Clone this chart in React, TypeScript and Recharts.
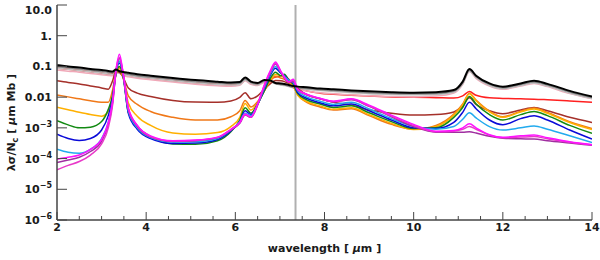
import { LineChart, Line, XAxis, YAxis, ReferenceLine } from 'recharts';

// wavelength grid (micron)
const WAVE = [
  2.0, 2.25, 2.5, 2.75, 3.0, 3.15, 3.25, 3.32, 3.4, 3.48, 3.6, 3.8, 4.1, 4.6, 5.1, 5.6,
  5.9, 6.1, 6.22, 6.35, 6.5, 6.65, 6.78, 6.9, 7.02, 7.1, 7.2, 7.3, 7.4, 7.6, 7.9, 8.2,
  8.6, 9.0, 9.5, 10.0, 10.5, 10.9, 11.1, 11.25, 11.4, 11.7, 12.0, 12.4, 12.7, 13.0, 13.5, 14.0,
];

const BLACK = [
  0.11, 0.1, 0.092, 0.083, 0.076, 0.071, 0.068, 0.08, 0.07, 0.066, 0.062, 0.056, 0.05, 0.042, 0.036, 0.032,
  0.03, 0.031, 0.044, 0.032, 0.029, 0.036, 0.035, 0.029, 0.028, 0.027, 0.025, 0.023, 0.022, 0.021, 0.019, 0.018,
  0.0165, 0.0155, 0.0145, 0.014, 0.0145, 0.017, 0.032, 0.082, 0.05, 0.028, 0.022, 0.028, 0.034, 0.027, 0.016, 0.0105,
];
const GRAY_DARK = [
  0.098, 0.09, 0.083, 0.075, 0.068, 0.064, 0.062, 0.072, 0.066, 0.06, 0.056, 0.05, 0.045, 0.038, 0.0325, 0.0288,
  0.0275, 0.0285, 0.039, 0.03, 0.027, 0.033, 0.033, 0.028, 0.026, 0.025, 0.023, 0.021, 0.02, 0.0192, 0.0175, 0.0165,
  0.015, 0.014, 0.0132, 0.0128, 0.0132, 0.0155, 0.029, 0.075, 0.046, 0.026, 0.0202, 0.0258, 0.031, 0.025, 0.0148, 0.0097,
];
const GRAY_LIGHT = [
  0.088, 0.081, 0.074, 0.067, 0.061, 0.057, 0.055, 0.065, 0.06, 0.054, 0.051, 0.046, 0.041, 0.034, 0.0295, 0.026,
  0.025, 0.026, 0.036, 0.028, 0.025, 0.031, 0.031, 0.027, 0.025, 0.024, 0.022, 0.02, 0.019, 0.018, 0.0163, 0.0153,
  0.014, 0.013, 0.0123, 0.0119, 0.0123, 0.0145, 0.027, 0.07, 0.043, 0.024, 0.0188, 0.024, 0.029, 0.023, 0.0137, 0.009,
];
const PINK = [
  0.076, 0.07, 0.065, 0.059, 0.054, 0.051, 0.05, 0.062, 0.06, 0.05, 0.046, 0.041, 0.037, 0.031, 0.0265, 0.0235,
  0.0225, 0.0245, 0.034, 0.026, 0.024, 0.03, 0.031, 0.03, 0.028, 0.027, 0.024, 0.021, 0.018, 0.016, 0.0138, 0.0128,
  0.0118, 0.011, 0.0105, 0.0102, 0.0108, 0.0135, 0.026, 0.068, 0.041, 0.023, 0.018, 0.023, 0.028, 0.022, 0.013, 0.0088,
];
const RED = [
  0.088, 0.081, 0.074, 0.067, 0.061, 0.057, 0.058, 0.075, 0.07, 0.05, 0.051, 0.046, 0.041, 0.034, 0.0295, 0.026,
  0.025, 0.026, 0.036, 0.028, 0.026, 0.034, 0.04, 0.045, 0.05, 0.052, 0.038, 0.028, 0.02, 0.016, 0.0135, 0.0125,
  0.0115, 0.0108, 0.0102, 0.0099, 0.0096, 0.0093, 0.011, 0.0152, 0.0115, 0.0095, 0.0091, 0.0088, 0.0086, 0.0082, 0.0075, 0.0068,
];
const BROWN = [
  0.034, 0.03, 0.027, 0.023, 0.02, 0.018, 0.035, 0.068, 0.065, 0.045, 0.02, 0.0135, 0.0105, 0.0078, 0.0069, 0.0068,
  0.0075, 0.0098, 0.014, 0.0088, 0.011, 0.018, 0.027, 0.035, 0.034, 0.032, 0.028, 0.025, 0.019, 0.012, 0.0088, 0.0068,
  0.0055, 0.0039, 0.003, 0.0026, 0.0027, 0.0033, 0.0052, 0.0095, 0.0058, 0.0036, 0.0029, 0.0038, 0.0046, 0.0036, 0.0022, 0.0015,
];
const ORANGE = [
  0.0118, 0.0102, 0.0088, 0.0076, 0.0068, 0.0068, 0.018, 0.06, 0.085, 0.045, 0.011, 0.0058, 0.0034, 0.0022, 0.0018, 0.0018,
  0.0023, 0.0036, 0.0078, 0.0048, 0.0072, 0.016, 0.032, 0.048, 0.042, 0.038, 0.03, 0.022, 0.012, 0.0068, 0.0048, 0.0038,
  0.0042, 0.0025, 0.0013, 0.0009, 0.0012, 0.0028, 0.006, 0.0135, 0.008, 0.0035, 0.0023, 0.0035, 0.0044, 0.0032, 0.0016, 0.00095,
];
const GOLD = [
  0.0047, 0.0039, 0.0032, 0.0027, 0.0024, 0.0034, 0.012, 0.05, 0.09, 0.045, 0.0065, 0.0024, 0.0012, 0.00068, 0.00062, 0.0007,
  0.0011, 0.0022, 0.0062, 0.0038, 0.0065, 0.016, 0.035, 0.055, 0.05, 0.042, 0.032, 0.024, 0.0115, 0.0072, 0.0052, 0.004,
  0.0045, 0.0027, 0.0014, 0.00088, 0.0011, 0.0026, 0.0056, 0.013, 0.0076, 0.0033, 0.0022, 0.0033, 0.0041, 0.003, 0.0015, 0.00088,
];
const GREEN = [
  0.0017, 0.00125, 0.001, 0.00105, 0.0016, 0.004, 0.012, 0.055, 0.1, 0.05, 0.0032, 0.0011, 0.00052, 0.0003, 0.00029, 0.00038,
  0.00075, 0.0018, 0.0045, 0.003, 0.006, 0.016, 0.04, 0.065, 0.05, 0.056, 0.035, 0.026, 0.013, 0.0082, 0.006, 0.0046,
  0.0052, 0.0031, 0.0016, 0.00095, 0.001, 0.0022, 0.0046, 0.0105, 0.006, 0.0027, 0.0018, 0.0027, 0.0034, 0.0025, 0.0012, 0.00066,
];
const BLUE = [
  0.00062, 0.00045, 0.00039, 0.00045, 0.00085, 0.0025, 0.01, 0.06, 0.13, 0.055, 0.003, 0.0009, 0.00045, 0.00031, 0.00032, 0.00042,
  0.0008, 0.0016, 0.0036, 0.0027, 0.0058, 0.018, 0.05, 0.088, 0.06, 0.05, 0.036, 0.028, 0.014, 0.0092, 0.0066, 0.0052,
  0.006, 0.0036, 0.0018, 0.001, 0.00095, 0.0015, 0.0032, 0.0068, 0.0042, 0.0018, 0.00126, 0.002, 0.0025, 0.0018, 0.00085, 0.00043,
];
const LIGHT_BLUE = [
  0.0002, 0.00016, 0.00015, 0.0002, 0.00045, 0.0015, 0.008, 0.06, 0.15, 0.06, 0.0035, 0.001, 0.00048, 0.00034, 0.00035, 0.00045,
  0.00085, 0.0016, 0.003, 0.0025, 0.0058, 0.02, 0.055, 0.1, 0.065, 0.048, 0.036, 0.03, 0.016, 0.0102, 0.0074, 0.0058,
  0.0068, 0.0041, 0.002, 0.0011, 0.0009, 0.0011, 0.0019, 0.0031, 0.0021, 0.0011, 0.00085, 0.001, 0.00115, 0.0009, 0.00055, 0.00033,
];
const MAGENTA = [
  0.000095, 0.00011, 0.00013, 0.0002, 0.00042, 0.0015, 0.008, 0.07, 0.25, 0.065, 0.0045, 0.0012, 0.00055, 0.00038, 0.0004, 0.0005,
  0.0009, 0.0015, 0.0028, 0.0023, 0.006, 0.025, 0.07, 0.14, 0.07, 0.045, 0.032, 0.038, 0.018, 0.0125, 0.0092, 0.0074,
  0.0088, 0.0055, 0.0026, 0.0013, 0.00078, 0.00082, 0.001, 0.00135, 0.001, 0.0006, 0.00049, 0.00055, 0.00058, 0.00048, 0.00035, 0.00028,
];
const PURPLE = [
  0.000074, 0.00009, 0.00011, 0.00017, 0.00036, 0.0013, 0.007, 0.06, 0.18, 0.06, 0.004, 0.0011, 0.0005, 0.00036, 0.00038, 0.00048,
  0.00085, 0.0014, 0.0026, 0.0022, 0.0055, 0.022, 0.06, 0.12, 0.065, 0.042, 0.03, 0.032, 0.017, 0.012, 0.0088, 0.007,
  0.0082, 0.005, 0.0023, 0.0011, 0.00072, 0.00072, 0.00072, 0.00074, 0.00068, 0.00053, 0.00046, 0.00044, 0.00043, 0.00038, 0.00032, 0.00027,
];
const MAGENTA_LOW = [
  0.000043, 0.00006, 0.00008, 0.00013, 0.0003, 0.001, 0.006, 0.07, 0.2, 0.065, 0.0042, 0.0012, 0.00052, 0.00037, 0.00039, 0.00049,
  0.00088, 0.0015, 0.0027, 0.0022, 0.0058, 0.024, 0.065, 0.13, 0.068, 0.044, 0.031, 0.036, 0.0175, 0.0122, 0.009, 0.0072,
  0.0085, 0.0052, 0.0024, 0.0012, 0.00075, 0.00078, 0.0009, 0.0011, 0.0009, 0.00058, 0.00048, 0.0005, 0.00052, 0.00044, 0.00034, 0.00028,
];

const MARKER_WAVE = 7.35;

const X_MAJOR = [2, 4, 6, 8, 10, 12, 14];
const X_MINOR = [2, 2.5, 3, 3.5, 4, 4.5, 5, 5.5, 6, 6.5, 7, 7.5, 8, 8.5, 9, 9.5, 10, 10.5, 11, 11.5, 12, 12.5, 13, 13.5, 14];
const Y_TICKS = [1e-6, 1e-5, 1e-4, 1e-3, 0.01, 0.1, 1, 10];
const Y_TICK_LABELS = ['10^-6', '10^-5', '10^-4', '10^-3', '0.01', '0.1', '1.', '10.0'];

const SERIES = [
  { key: 'red', color: '#ff2020', values: RED, width: 1.5 },
  { key: 'pink', color: '#f0a8b8', values: PINK, width: 1.5 },
  { key: 'grayLight', color: '#c0c0c0', values: GRAY_LIGHT, width: 1.5 },
  { key: 'grayDark', color: '#858585', values: GRAY_DARK, width: 1.5 },
  { key: 'brown', color: '#a5302a', values: BROWN, width: 1.5 },
  { key: 'orange', color: '#f07818', values: ORANGE, width: 1.5 },
  { key: 'gold', color: '#ffb000', values: GOLD, width: 1.5 },
  { key: 'green', color: '#138a13', values: GREEN, width: 1.5 },
  { key: 'blue', color: '#0a0ad8', values: BLUE, width: 1.5 },
  { key: 'lightBlue', color: '#22aaee', values: LIGHT_BLUE, width: 1.5 },
  { key: 'purple', color: '#a02ea0', values: PURPLE, width: 1.5 },
  { key: 'magentaLow', color: '#e838c8', values: MAGENTA_LOW, width: 1.5 },
  { key: 'magenta', color: '#ff10ff', values: MAGENTA, width: 1.5 },
  { key: 'black', color: '#000000', values: BLACK, width: 2 },
];

const data = WAVE.map((w, i) => {
  const row: Record<string, number> = { w };
  SERIES.forEach(s => {
    row[s.key] = s.values[i];
  });
  return row;
});

const FONT = '"DejaVu Sans", sans-serif';
const AXIS = '#444444';
const TEXT = '#1a1a1a';
const textStyle = { fontFamily: FONT, fontSize: 11, fontWeight: 'bold' as const, fill: TEXT };

const BottomTick = ({ x, y, payload }: any) => {
  const major = X_MAJOR.includes(payload.value);
  return (
    <g>
      <line x1={x} x2={x} y1={y} y2={y - (major ? 8 : 4)} stroke={AXIS} />
      {major && (
        <text x={x} y={y + 11} textAnchor="middle" {...textStyle}>
          {payload.value}
        </text>
      )}
    </g>
  );
};

const TopTick = ({ x, y, payload }: any) => {
  const major = X_MAJOR.includes(payload.value);
  return <line x1={x} x2={x} y1={y} y2={y + (major ? 8 : 4)} stroke={AXIS} />;
};

const LeftTick = ({ x, y, payload }: any) => {
  const idx = Y_TICKS.indexOf(payload.value);
  const label = Y_TICK_LABELS[idx] ?? '';
  const [base, exp] = label.split('^');
  const dy = idx === Y_TICKS.length - 1 ? 9 : 4;
  return (
    <g>
      <line x1={x} x2={x + 10} y1={y} y2={y} stroke={AXIS} />
      <text x={x - 5} y={y + dy} textAnchor="end" {...textStyle}>
        {base}
        {exp && (
          <tspan dy={-5} fontSize={8}>
            {exp.replace('-', '\u2212')}
          </tspan>
        )}
      </text>
    </g>
  );
};

const RightTick = ({ x, y }: any) => <line x1={x} x2={x - 10} y1={y} y2={y} stroke={AXIS} />;

const XTitle = ({ viewBox }: any) => {
  const { x, y, width } = viewBox;
  return (
    <text x={x + width / 2} y={y + 32} textAnchor="middle" {...textStyle}>
      wavelength [ <tspan fontStyle="italic">μ</tspan>m ]
    </text>
  );
};

const YTitle = ({ viewBox }: any) => {
  const { y, height } = viewBox;
  const cx = 15;
  const cy = y + height / 2 + 10;
  return (
    <text x={cx} y={cy} textAnchor="middle" transform={`rotate(-90 ${cx} ${cy})`} {...textStyle}>
      λσ/N
      <tspan dy={3} fontSize={8}>c</tspan>
      <tspan dy={-3}> [ </tspan>
      <tspan fontStyle="italic">μ</tspan>
      <tspan>m Mb ]</tspan>
    </text>
  );
};

export default function App() {
  return (
    <div style={{ position: 'absolute', left: 0, top: 0, width: 600, height: 260, background: '#fff' }}>
      <LineChart width={600} height={260} data={data} margin={{ top: 5, right: 8, bottom: 0, left: 0 }}>
        <XAxis
          xAxisId="b"
          dataKey="w"
          type="number"
          domain={[2, 14]}
          ticks={X_MINOR}
          interval={0}
          allowDataOverflow
          orientation="bottom"
          height={40}
          tickSize={0}
          tickMargin={0}
          tickLine={false}
          axisLine={{ stroke: AXIS, strokeWidth: 1.5 }}
          tick={<BottomTick />}
          label={<XTitle />}
        />
        <XAxis
          xAxisId="t"
          dataKey="w"
          type="number"
          domain={[2, 14]}
          ticks={X_MINOR}
          interval={0}
          allowDataOverflow
          orientation="top"
          height={0}
          tickSize={0}
          tickMargin={0}
          tickLine={false}
          axisLine={{ stroke: AXIS, strokeWidth: 1.5 }}
          tick={<TopTick />}
        />
        <YAxis
          yAxisId="l"
          scale="log"
          type="number"
          domain={[1e-6, 10]}
          ticks={Y_TICKS}
          interval={0}
          allowDataOverflow
          width={57}
          tickSize={0}
          tickMargin={0}
          tickLine={false}
          axisLine={{ stroke: AXIS, strokeWidth: 1.5 }}
          tick={<LeftTick />}
          label={<YTitle />}
        />
        <YAxis
          yAxisId="r"
          orientation="right"
          scale="log"
          type="number"
          domain={[1e-6, 10]}
          ticks={Y_TICKS}
          interval={0}
          allowDataOverflow
          width={0}
          tickSize={0}
          tickMargin={0}
          tickLine={false}
          axisLine={{ stroke: AXIS, strokeWidth: 1.5 }}
          tick={<RightTick />}
        />
        <ReferenceLine xAxisId="b" yAxisId="l" x={MARKER_WAVE} stroke="#b0b0b0" strokeWidth={2} />
        {SERIES.map(s => (
          <Line
            key={s.key}
            xAxisId="b"
            yAxisId="l"
            dataKey={s.key}
            type="monotone"
            stroke={s.color}
            strokeWidth={s.width}
            dot={false}
            activeDot={false}
            isAnimationActive={false}
          />
        ))}
      </LineChart>
    </div>
  );
}
